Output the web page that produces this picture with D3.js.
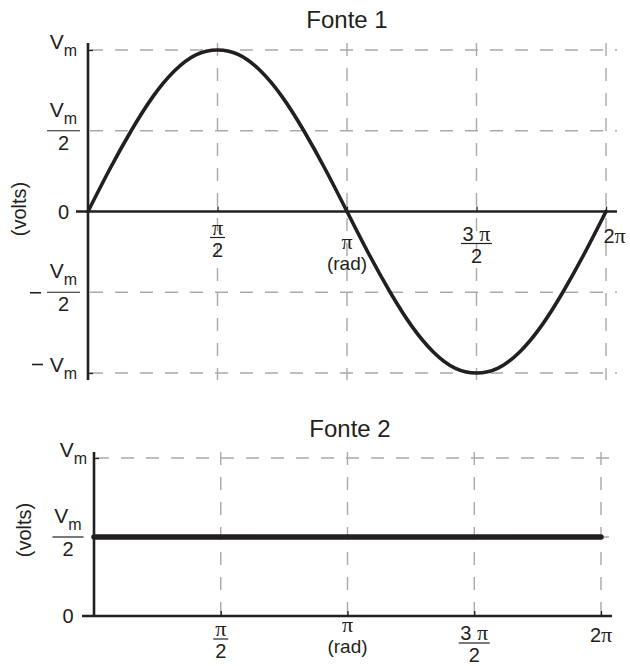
<!DOCTYPE html>
<html>
<head>
<meta charset="utf-8">
<script src="https://cdn.jsdelivr.net/npm/d3@7"></script>
<style>
  body { margin: 0; background: #fff; }
  text { font-family: "Liberation Sans", Arial, Helvetica, sans-serif; fill: #231f20; }
  .pi { font-family: "Liberation Serif", "Times New Roman", serif; font-size: 22px; }
</style>
</head>
<body>
<div id="chart"></div>
<script>
// ---- data ----
const titles = ["Fonte 1", "Fonte 2"];
const yTitle = "(volts)";

// angle in degrees (0..360 = 0..2π), value in units of Vm
const fonte1Angles = [0, 15, 30, 45, 60, 75, 90, 105, 120, 135, 150, 165, 180,
                      195, 210, 225, 240, 255, 270, 285, 300, 315, 330, 345, 360];
const fonte1Values = [0, 0.26, 0.5, 0.71, 0.87, 0.97, 1, 0.97, 0.87, 0.71, 0.5, 0.26, 0,
                      -0.26, -0.5, -0.71, -0.87, -0.97, -1, -0.97, -0.87, -0.71, -0.5, -0.26, 0];

const fonte2Angles = [0, 360];
const fonte2Values = [0.5, 0.5];

const xTicks = [90, 180, 270, 360];
const xTickLabels = ["π/2", "π\n(rad)", "3 π/2", "2π"];

const yTicks1 = [1, 0.5, 0, -0.5, -1];
const yTickLabels1 = ["Vm", "Vm/2", "0", "−Vm/2", "−Vm"];
const yTicks2 = [1, 0.5, 0];
const yTickLabels2 = ["Vm", "Vm/2", "0"];

// ---- layout ----
const width = 630, height = 666;
const ink = "#231f20", gridColor = "#a9a9a9";
const fs = 20;

const svg = d3.select("#chart").append("svg")
    .attr("width", width)
    .attr("height", height);

const panels = [
    {
        title: titles[0], angles: fonte1Angles, values: fonte1Values,
        yTicks: yTicks1, yLabels: yTickLabels1,
        x: d3.scaleLinear().domain([0, 360]).range([88, 606]),
        y: d3.scaleLinear().domain([-1, 1]).range([373, 50]),
        axisTop: 43, axisBottom: 380, gridRight: 617, zeroLeft: 76, zeroRight: 617,
        titleX: 347, titleY: 28, voltsX: 19, voltsY: 209, lineWidth: 3.6,
        labCx: 63.5, labRight: 77, fracW: 33,
        xLab: [{line: 26}, {pi: 37, rad: 58}, {line: 32}, {base: 31, dx: 8.5}]
    },
    {
        title: titles[1], angles: fonte2Angles, values: fonte2Values,
        yTicks: yTicks2, yLabels: yTickLabels2,
        x: d3.scaleLinear().domain([0, 360]).range([94, 601]),
        y: d3.scaleLinear().domain([0, 1]).range([616, 458]),
        axisTop: 452, axisBottom: 616, gridRight: 611, zeroLeft: 82, zeroRight: 612,
        titleX: 350, titleY: 437, voltsX: 24, voltsY: 530, lineWidth: 5.5,
        labCx: 68, labRight: 87, fracW: 31,
        xLab: [{line: 23}, {pi: 16, rad: 37}, {line: 27}, {base: 26, dx: 0}]
    }
];

// write a string into a text element, π set in a serif face
function mathText(sel, str) {
    str.split(/(π)/).filter(s => s.length).forEach(part => {
        let t = sel.append("tspan").text(part);
        if (part === "π") t.attr("class", "pi");
    });
    return sel;
}

// "Vm" with subscript m
function vm(sel) {
    sel.append("tspan").text("V");
    sel.append("tspan").attr("dy", 7).attr("font-size", 16).text("m");
    return sel;
}

function minusSign(g, x1, x2, yy) {
    g.append("line")
        .attr("x1", x1).attr("x2", x2)
        .attr("y1", yy).attr("y2", yy)
        .attr("stroke", ink).attr("stroke-width", 1.6);
}

function drawFraction(g, cx, lineY, w, num, den, numIsVm) {
    g.append("line")
        .attr("x1", cx - w / 2).attr("x2", cx + w / 2)
        .attr("y1", lineY).attr("y2", lineY)
        .attr("stroke", ink).attr("stroke-width", 1.2);
    let n = g.append("text")
        .attr("x", cx).attr("text-anchor", "middle")
        .attr("font-size", numIsVm ? 21 : fs);
    if (numIsVm) {
        n.attr("y", lineY - 14);
        vm(n);
    } else {
        n.attr("y", lineY - 3);
        mathText(n, num);
    }
    g.append("text")
        .attr("x", cx).attr("y", lineY + 19)
        .attr("text-anchor", "middle")
        .attr("font-size", fs)
        .text(den);
}

panels.forEach(p => {
    let g = svg.append("g");
    let x = p.x, y = p.y;
    let y0 = y(0);

    // grid
    g.selectAll(".hgrid")
        .data(p.yTicks.filter(v => v !== 0))
        .enter().append("line")
        .attr("class", "hgrid")
        .attr("x1", x(0) + 2).attr("x2", p.gridRight)
        .attr("y1", d => y(d)).attr("y2", d => y(d))
        .attr("stroke", gridColor).attr("stroke-width", 1.4)
        .attr("stroke-dasharray", "13,12");

    g.selectAll(".vgrid")
        .data(xTicks)
        .enter().append("line")
        .attr("class", "vgrid")
        .attr("x1", d => x(d)).attr("x2", d => x(d))
        .attr("y1", p.axisTop).attr("y2", p.axisBottom)
        .attr("stroke", gridColor).attr("stroke-width", 1.4)
        .attr("stroke-dasharray", "13,12");

    // tick marks
    let xAxis = g.append("g")
        .attr("transform", `translate(0,${y0})`)
        .call(d3.axisBottom(x).tickValues(xTicks).tickSize(-5).tickFormat(""));
    let yAxis = g.append("g")
        .attr("transform", `translate(${x(0)},0)`)
        .call(d3.axisLeft(y).tickValues(p.yTicks.filter(v => Math.abs(v) === 1))
            .tickSize(-5).tickFormat(""));
    [xAxis, yAxis].forEach(a => {
        a.select(".domain").remove();
        a.selectAll(".tick line").attr("stroke", ink).attr("stroke-width", 1.3);
    });

    // axis lines
    g.append("line")
        .attr("x1", p.zeroLeft).attr("x2", p.zeroRight)
        .attr("y1", y0).attr("y2", y0)
        .attr("stroke", ink).attr("stroke-width", 2.6);
    g.append("line")
        .attr("x1", x(0)).attr("x2", x(0))
        .attr("y1", p.axisTop).attr("y2", p.axisBottom)
        .attr("stroke", ink).attr("stroke-width", 2.6);

    // the signal
    let pts = p.angles.map((a, i) => [a, p.values[i]]);
    g.append("path")
        .datum(pts)
        .attr("fill", "none")
        .attr("stroke", ink)
        .attr("stroke-width", p.lineWidth)
        .attr("stroke-linecap", "round")
        .attr("stroke-linejoin", "round")
        .attr("d", d3.line().x(d => x(d[0])).y(d => y(d[1])).curve(d3.curveNatural));

    // title
    g.append("text")
        .attr("x", p.titleX).attr("y", p.titleY)
        .attr("text-anchor", "middle")
        .attr("font-size", 24)
        .text(p.title);

    // y title
    g.append("text")
        .attr("transform", `translate(${p.voltsX},${p.voltsY}) rotate(-90)`)
        .attr("text-anchor", "middle")
        .attr("dominant-baseline", "central")
        .attr("font-size", fs)
        .text(yTitle);

    // y tick labels
    p.yTicks.forEach((v, i) => {
        let lab = p.yLabels[i];
        let ty = y(v);
        let neg = lab.startsWith("−");
        let body = neg ? lab.slice(1) : lab;
        if (body.includes("/")) {
            let [num, den] = body.split("/");
            drawFraction(g, p.labCx, ty, p.fracW, num, den, num === "Vm");
            if (neg) {
                let right = p.labCx - p.fracW / 2 - 6;
                minusSign(g, right - 11, right, ty + 0.5);
            }
        } else if (body === "Vm") {
            let t = g.append("text")
                .attr("x", p.labRight).attr("y", ty - 1)
                .attr("text-anchor", "end")
                .attr("font-size", 21);
            vm(t);
            if (neg) minusSign(g, p.labRight - 45, p.labRight - 34, ty - 8.5);
        } else {
            g.append("text")
                .attr("x", p.labCx).attr("y", ty + 7)
                .attr("text-anchor", "middle")
                .attr("font-size", fs)
                .text(lab);
        }
    });

    // x tick labels
    xTicks.forEach((v, i) => {
        let lab = xTickLabels[i];
        let L = p.xLab[i];
        let tx = x(v);
        if (lab.includes("/")) {
            let [num, den] = lab.split("/");
            let w = num.length > 1 ? 31 : 15;
            drawFraction(g, tx, y0 + L.line, w, num, den, false);
        } else if (lab.includes("\n")) {
            let [a, b] = lab.split("\n");
            mathText(g.append("text")
                .attr("x", tx).attr("y", y0 + L.pi)
                .attr("text-anchor", "middle")
                .attr("font-size", fs), a);
            g.append("text")
                .attr("x", tx).attr("y", y0 + L.rad)
                .attr("text-anchor", "middle")
                .attr("font-size", 19)
                .text(b);
        } else {
            mathText(g.append("text")
                .attr("x", tx + L.dx).attr("y", y0 + L.base)
                .attr("text-anchor", "middle")
                .attr("font-size", fs), lab);
        }
    });
});
</script>
</body>
</html>
